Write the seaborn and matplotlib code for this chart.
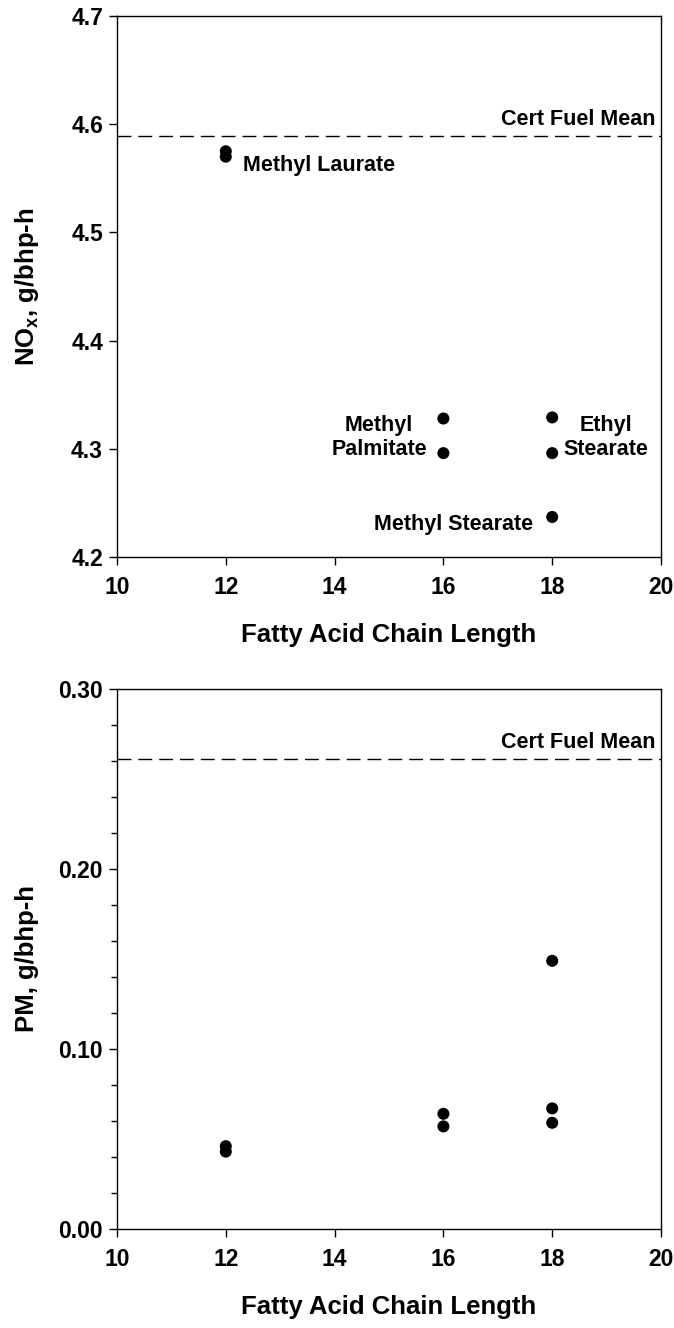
import matplotlib
matplotlib.use("Agg")
import matplotlib.pyplot as plt
import seaborn as sns
import pandas as pd
from matplotlib.ticker import MultipleLocator, FormatStrFormatter

sns.set_theme(style="white")
plt.rcParams['font.family'] = ['Liberation Sans', 'DejaVu Sans']
plt.rcParams['font.weight'] = 'bold'
plt.rcParams['text.color'] = 'black'
plt.rcParams['axes.labelcolor'] = 'black'
plt.rcParams['xtick.color'] = 'black'
plt.rcParams['ytick.color'] = 'black'
plt.rcParams['mathtext.fontset'] = 'custom'
plt.rcParams['mathtext.rm'] = 'Liberation Sans:bold'
plt.rcParams['mathtext.bf'] = 'Liberation Sans:bold'
plt.rcParams['mathtext.it'] = 'Liberation Sans:bold'

# Data
chain_nox = [12, 12, 16, 16, 18, 18, 18]
nox = [4.575, 4.570, 4.328, 4.296, 4.329, 4.296, 4.237]
chain_pm = [12, 12, 16, 16, 18, 18, 18]
pm = [0.046, 0.043, 0.064, 0.057, 0.149, 0.067, 0.059]
cert_nox = 4.589
cert_pm = 0.261

labels_text = ["Methyl Laurate", "Methyl\nPalmitate", "Ethyl\nStearate", "Methyl Stearate"]
labels_x = [12.32, 14.82, 18.99, 17.65]
labels_y = [4.562, 4.3105, 4.3105, 4.230]
labels_ha = ["left", "center", "center", "right"]

df_nox = pd.DataFrame({"chain": chain_nox, "val": nox})
df_pm = pd.DataFrame({"chain": chain_pm, "val": pm})

fig = plt.figure(figsize=(6.74, 13.28), dpi=100)
ax1 = fig.add_axes([117/674, 1-557/1328, 544/674, 541/1328])
ax2 = fig.add_axes([117/674, 1-1229/1328, 544/674, 540/1328])

tick_fs = 16.5
label_fs = 18.5
ann_fs = 15.5

for ax, df, cert, ylim, ystep in [(ax1, df_nox, cert_nox, (4.2, 4.7), 0.1),
                                   (ax2, df_pm, cert_pm, (0.0, 0.30), 0.10)]:
    sns.scatterplot(data=df, x="chain", y="val", ax=ax, color="black", s=75,
                    edgecolor="none", linewidth=0, zorder=3)
    ax.axhline(cert, color="black", lw=1.0, dashes=(10, 5), zorder=2)
    ax.set_xlim(10, 20)
    ax.set_ylim(*ylim)
    ax.xaxis.set_major_locator(MultipleLocator(2))
    ax.yaxis.set_major_locator(MultipleLocator(ystep))
    ax.text(19.9, cert + (ylim[1] - ylim[0]) * 0.012, "Cert Fuel Mean",
            ha="right", va="bottom", fontsize=ann_fs, fontweight="bold", color="black")
    for sp in ax.spines.values():
        sp.set_color("black")
        sp.set_linewidth(1.0)
    ax.tick_params(axis="both", which="major", direction="out", length=6, width=1,
                   color="black", labelcolor="black", labelsize=tick_fs,
                   left=True, bottom=True, pad=4)
    ax.tick_params(axis="x", which="major", pad=8)
    ax.set_xlabel("Fatty Acid Chain Length", fontsize=label_fs, fontweight="bold",
                  labelpad=17, color="black")

ax1.yaxis.set_major_formatter(FormatStrFormatter("%.1f"))
ax2.yaxis.set_major_formatter(FormatStrFormatter("%.2f"))
ax2.yaxis.set_minor_locator(MultipleLocator(0.02))
ax2.tick_params(axis="y", which="minor", direction="out", length=4, width=1, color="black", left=True)

ax1.set_ylabel(r"NO$_{\mathrm{x}}$, g/bhp-h", fontsize=label_fs, fontweight="bold",
               labelpad=22, color="black")
ax2.set_ylabel("PM, g/bhp-h", fontsize=label_fs, fontweight="bold", labelpad=14, color="black")

for t, x, y, ha in zip(labels_text, labels_x, labels_y, labels_ha):
    ax1.text(x, y, t, ha=ha, va="center", fontsize=ann_fs, fontweight="bold",
             multialignment="center", linespacing=1.2, color="black")

for lab in ax1.get_xticklabels() + ax1.get_yticklabels() + ax2.get_xticklabels() + ax2.get_yticklabels():
    lab.set_fontweight("bold")

fig.savefig("out.png", dpi=100)
